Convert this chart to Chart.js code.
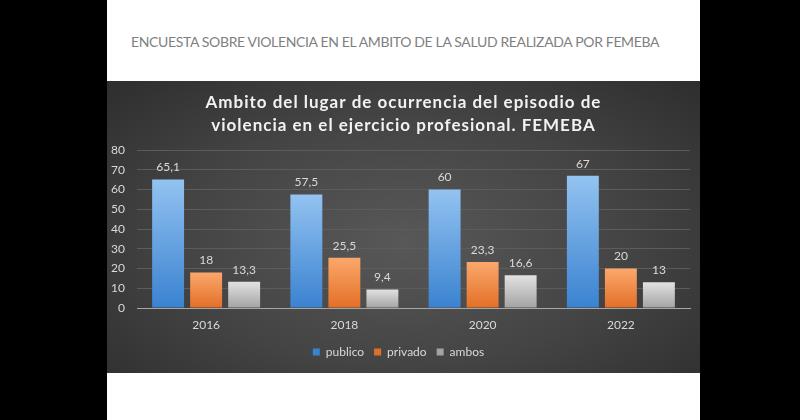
<!DOCTYPE html>
<html><head><meta charset="utf-8">
<script src="https://cdn.jsdelivr.net/npm/chart.js@4.4.1/dist/chart.umd.min.js"></script>
<style>
html,body{margin:0;padding:0;background:#000;width:800px;height:420px;overflow:hidden}
#page{position:absolute;left:107px;top:0;width:593px;height:420px;background:#fff}
#heading{position:absolute;left:24px;top:33px;font-family:Lato,sans-serif;font-size:14px;letter-spacing:-0.35px;color:#7f7f7f;white-space:nowrap}
#box{position:absolute;left:0;top:81px;width:593px;height:292px;
 background:radial-gradient(ellipse 75% 85% at 50% 55%, #585858 0%, #444 50%, #2a2a2a 100%)}
canvas{display:block}
</style></head><body>
<div id="page">
 <div id="heading">ENCUESTA SOBRE VIOLENCIA EN EL AMBITO DE LA SALUD REALIZADA POR FEMEBA</div>
 <div id="box"><canvas id="c" width="593" height="292" style="width:593px;height:292px"></canvas></div>
</div>
<script>
const categories = ['2016', '2018', '2020', '2022'];
const seriesNames = ['publico', 'privado', 'ambos'];
const publico = [65.1, 57.5, 60, 67];
const privado = [18, 25.5, 23.3, 20];
const ambos = [13.3, 9.4, 16.6, 13];
const yTicks = [0, 10, 20, 30, 40, 50, 60, 70, 80];
const titleLines = ['Ambito del lugar de ocurrencia del episodio de', 'violencia en el ejercicio profesional. FEMEBA'];

function grad(top, bottom, legendColor) {
  return function (ctx) {
    if (ctx.type !== 'data') return legendColor;
    const chart = ctx.chart;
    if (!chart.chartArea || !chart.scales.y) return legendColor;
    const y = chart.scales.y;
    const y0 = y.getPixelForValue(ctx.raw), y1 = y.getPixelForValue(0);
    if (!isFinite(y0) || !isFinite(y1) || y1 - y0 < 1) return legendColor;
    const g = chart.ctx.createLinearGradient(0, y0, 0, y1);
    g.addColorStop(0, top);
    g.addColorStop(1, bottom);
    return g;
  };
}

const titlePlugin = {
  id: 'spacedTitle',
  afterDraw(chart) {
    const ctx = chart.ctx;
    ctx.save();
    ctx.font = 'bold 17px Lato, sans-serif';
    ctx.fillStyle = '#f2f2f2';
    ctx.textAlign = 'center';
    ctx.textBaseline = 'middle';
    try { ctx.letterSpacing = '1px'; } catch (e) {}
    const cx = chart.width / 2;
    titleLines.forEach((t, i) => ctx.fillText(t, cx, 22 + i * 23));
    ctx.restore();
  }
};

const valueLabels = {
  id: 'valueLabels',
  afterDatasetsDraw(chart) {
    const ctx = chart.ctx;
    ctx.save();
    ctx.font = '12px Lato, sans-serif';
    ctx.fillStyle = '#d9d9d9';
    ctx.textAlign = 'center';
    ctx.textBaseline = 'middle';
    chart.data.datasets.forEach((ds, i) => {
      chart.getDatasetMeta(i).data.forEach((bar, j) => {
        ctx.fillText(String(ds.data[j]).replace('.', ','), bar.x, bar.y - 12);
      });
    });
    ctx.restore();
  }
};

new Chart(document.getElementById('c'), {
  type: 'bar',
  data: {
    labels: categories,
    datasets: [
      { label: seriesNames[0], data: publico, backgroundColor: grad('#93c3f1', '#3a82d0', '#4a90dc') },
      { label: seriesNames[1], data: privado, backgroundColor: grad('#fba86c', '#e36f27', '#f08435') },
      { label: seriesNames[2], data: ambos, backgroundColor: grad('#e2e2e2', '#a3a3a3', '#b8b8b8') }
    ]
  },
  plugins: [titlePlugin, valueLabels],
  options: {
    responsive: false,
    animation: false,
    layout: { padding: { top: 69, right: 10, left: 0, bottom: 5 } },
    datasets: { bar: { categoryPercentage: 0.825, barPercentage: 0.84 } },
    plugins: {
      title: { display: false },
      tooltip: { enabled: false },
      legend: {
        position: 'bottom',
        labels: {
          boxWidth: 7, boxHeight: 7, padding: 10,
          color: '#d9d9d9',
          font: { family: 'Lato, sans-serif', size: 12 }
        }
      }
    },
    scales: {
      x: {
        grid: { display: false, drawTicks: false },
        border: { display: true, color: '#a6a6a6', width: 1 },
        afterFit(scale) { scale.height = 28; },
        ticks: { color: '#d9d9d9', font: { family: 'Lato, sans-serif', size: 12 }, padding: 10 }
      },
      y: {
        min: 0, max: 80,
        afterBuildTicks(scale) { scale.ticks = yTicks.map(v => ({ value: v })); },
        afterFit(scale) { scale.width = 30; },
        grid: { color: (c) => c.tick && c.tick.value === 0 ? '#a6a6a6' : '#5c5c5c', drawTicks: false },
        border: { display: false },
        ticks: { color: '#d9d9d9', font: { family: 'Lato, sans-serif', size: 12 }, padding: 12 }
      }
    }
  }
});
</script>
</body></html>
